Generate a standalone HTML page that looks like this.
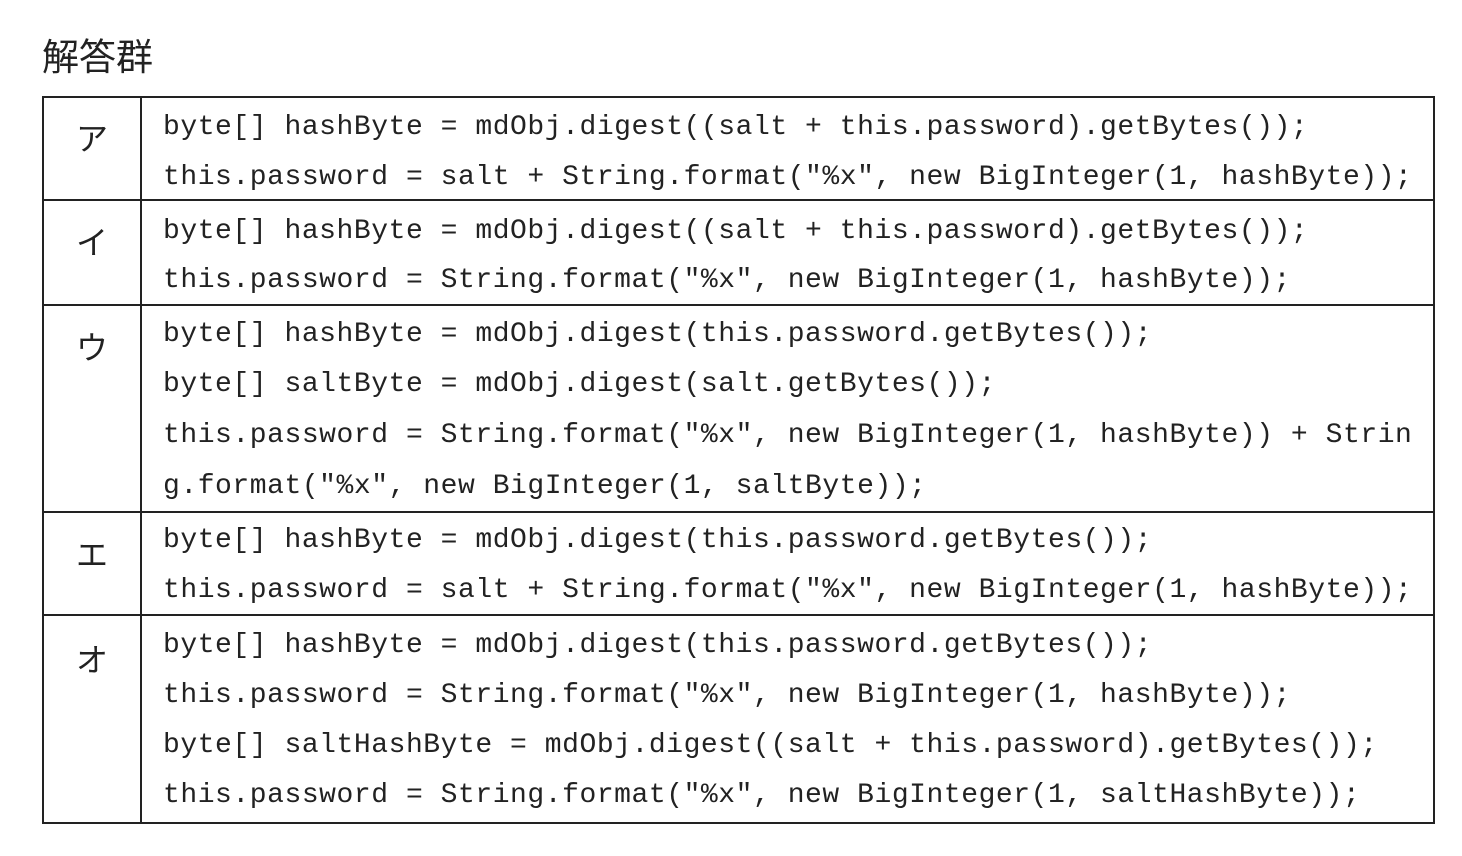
<!DOCTYPE html>
<html><head><meta charset="utf-8"><style>
body{margin:0;width:1462px;height:856px;background:#fff;position:relative;overflow:hidden;font-family:"Liberation Sans","Noto Sans CJK JP",sans-serif;color:#222}
.t{position:absolute;left:42px;top:30px;font-size:37px;font-family:"Noto Sans CJK JP",sans-serif;line-height:48px}
.box{position:absolute;left:42px;top:96px;width:1389px;height:724px;border:2px solid #222}
.v{position:absolute;left:140px;top:96px;width:2px;height:728px;background:#222}
.h{position:absolute;left:42px;width:1393px;height:2px;background:#222}
.l{position:absolute;left:163px;font-family:"Liberation Mono",monospace;font-size:28px;line-height:34px;white-space:pre;letter-spacing:0.55px;color:#222}
.k{position:absolute;left:42px;width:100px;text-align:center;font-family:"Noto Sans CJK JP",sans-serif;font-size:32px;line-height:40px}
</style></head><body>
<div class="t">解答群</div>
<div class="box"></div>
<div class="v"></div>
<div class="h" style="top:199px"></div>
<div class="h" style="top:304px"></div>
<div class="h" style="top:511px"></div>
<div class="h" style="top:614px"></div>
<div class="k" style="top:117px">ア</div>
<div class="k" style="top:221px">イ</div>
<div class="k" style="top:326px">ウ</div>
<div class="k" style="top:533px">エ</div>
<div class="k" style="top:638px">オ</div>
<div class="l" style="top:111px">byte[] hashByte = mdObj.digest((salt + this.password).getBytes());</div>
<div class="l" style="top:161px">this.password = salt + String.format("%x", new BigInteger(1, hashByte));</div>
<div class="l" style="top:215px">byte[] hashByte = mdObj.digest((salt + this.password).getBytes());</div>
<div class="l" style="top:264px">this.password = String.format("%x", new BigInteger(1, hashByte));</div>
<div class="l" style="top:318px">byte[] hashByte = mdObj.digest(this.password.getBytes());</div>
<div class="l" style="top:368px">byte[] saltByte = mdObj.digest(salt.getBytes());</div>
<div class="l" style="top:419px">this.password = String.format("%x", new BigInteger(1, hashByte)) + Strin</div>
<div class="l" style="top:470px">g.format("%x", new BigInteger(1, saltByte));</div>
<div class="l" style="top:524px">byte[] hashByte = mdObj.digest(this.password.getBytes());</div>
<div class="l" style="top:574px">this.password = salt + String.format("%x", new BigInteger(1, hashByte));</div>
<div class="l" style="top:629px">byte[] hashByte = mdObj.digest(this.password.getBytes());</div>
<div class="l" style="top:679px">this.password = String.format("%x", new BigInteger(1, hashByte));</div>
<div class="l" style="top:729px">byte[] saltHashByte = mdObj.digest((salt + this.password).getBytes());</div>
<div class="l" style="top:779px">this.password = String.format("%x", new BigInteger(1, saltHashByte));</div>
</body></html>
